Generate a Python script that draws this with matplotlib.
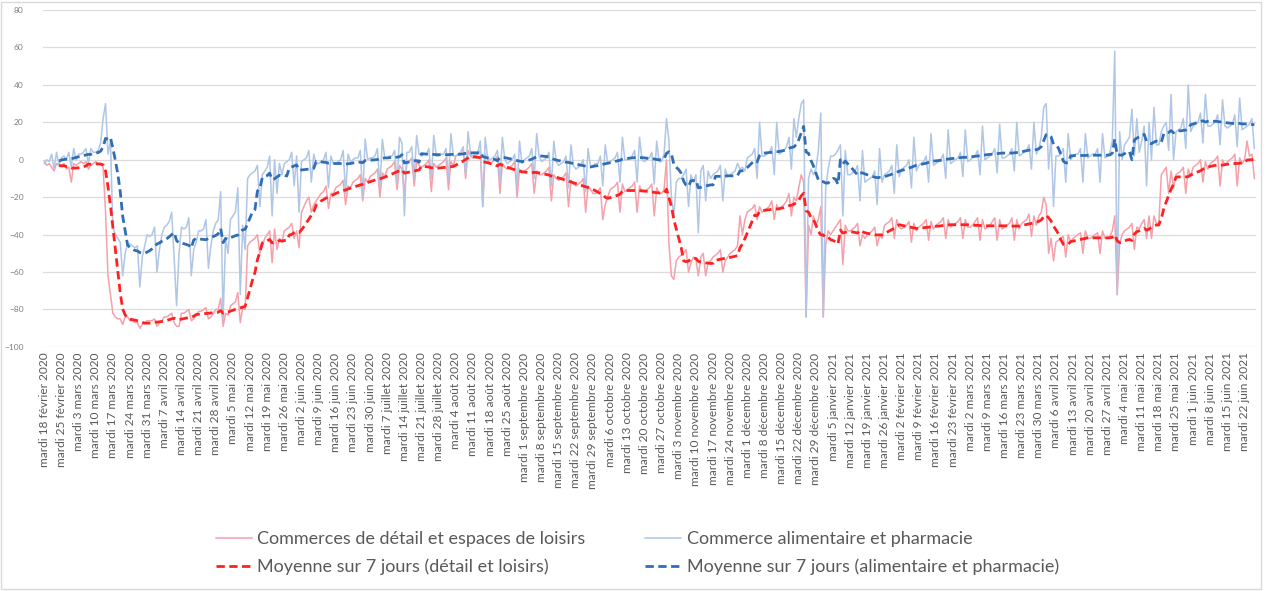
import matplotlib
matplotlib.use("Agg")
import matplotlib.pyplot as plt
import numpy as np
import pandas as pd
from matplotlib.patches import Rectangle

# Weekly tick labels (every Tuesday)
tick_labels = [
    "mardi 18 février 2020", "mardi 25 février 2020", "mardi 3 mars 2020", "mardi 10 mars 2020",
    "mardi 17 mars 2020", "mardi 24 mars 2020", "mardi 31 mars 2020", "mardi 7 avril 2020",
    "mardi 14 avril 2020", "mardi 21 avril 2020", "mardi 28 avril 2020", "mardi 5 mai 2020",
    "mardi 12 mai 2020", "mardi 19 mai 2020", "mardi 26 mai 2020", "mardi 2 juin 2020",
    "mardi 9 juin 2020", "mardi 16 juin 2020", "mardi 23 juin 2020", "mardi 30 juin 2020",
    "mardi 7 juillet 2020", "mardi 14 juillet 2020", "mardi 21 juillet 2020", "mardi 28 juillet 2020",
    "mardi 4 août 2020", "mardi 11 août 2020", "mardi 18 août 2020", "mardi 25 août 2020",
    "mardi 1 septembre 2020", "mardi 8 septembre 2020", "mardi 15 septembre 2020",
    "mardi 22 septembre 2020", "mardi 29 septembre 2020", "mardi 6 octobre 2020",
    "mardi 13 octobre 2020", "mardi 20 octobre 2020", "mardi 27 octobre 2020",
    "mardi 3 novembre 2020", "mardi 10 novembre 2020", "mardi 17 novembre 2020",
    "mardi 24 novembre 2020", "mardi 1 décembre 2020", "mardi 8 décembre 2020",
    "mardi 15 décembre 2020", "mardi 22 décembre 2020", "mardi 29 décembre 2020",
    "mardi 5 janvier 2021", "mardi 12 janvier 2021", "mardi 19 janvier 2021", "mardi 26 janvier 2021",
    "mardi 2 février 2021", "mardi 9 février 2021", "mardi 16 février 2021", "mardi 23 février 2021",
    "mardi 2 mars 2021", "mardi 9 mars 2021", "mardi 16 mars 2021", "mardi 23 mars 2021",
    "mardi 30 mars 2021", "mardi 6 avril 2021", "mardi 13 avril 2021", "mardi 20 avril 2021",
    "mardi 27 avril 2021", "mardi 4 mai 2021", "mardi 11 mai 2021", "mardi 18 mai 2021",
    "mardi 25 mai 2021", "mardi 1 juin 2021", "mardi 8 juin 2021", "mardi 15 juin 2021",
    "mardi 22 juin 2021",
]

# Daily change vs. baseline (%), Tuesday 18 Feb 2020 onwards, one row per week (Tue..Mon)
retail = [
    -1, -3, -2, -4, -6, -2, -3,
    -3, -2, -5, -4, -12, -2, -3,
    -2, -1, -2, -1, -5, -3, -2,
    -1, -2, -2, -4, -28, -62, -72,
    -82, -84, -85, -85, -88, -84, -84,
    -86, -86, -87, -87, -90, -88, -87,
    -86, -86, -86, -85, -89, -87, -86,
    -84, -84, -83, -82, -87, -89, -89,
    -82, -82, -81, -80, -86, -85, -83,
    -81, -81, -80, -79, -85, -84, -82,
    -80, -80, -74, -89, -82, -83, -78,
    -77, -76, -71, -87, -79, -80, -46,
    -44, -43, -42, -40, -50, -46, -42,
    -40, -38, -55, -37, -48, -42, -44,
    -38, -37, -36, -34, -42, -38, -47,
    -28, -25, -22, -20, -28, -24, -22,
    -20, -18, -17, -14, -26, -18, -18,
    -15, -14, -13, -11, -24, -14, -15,
    -12, -11, -10, -8, -22, -10, -12,
    -9, -8, -7, -5, -20, -7, -9,
    -5, -4, -3, -1, -16, -3, -5,
    -18, -2, -1, 1, -14, -1, -3,
    -4, -3, -2, 0, -17, -2, -4,
    -3, -2, -1, 1, -16, -1, -3,
    2, 3, 4, 6, -10, 5, 2,
    1, 2, 3, 5, -25, 3, 0,
    -2, -1, 0, 2, -18, -2, -4,
    -5, -4, -3, -1, -20, -5, -7,
    -6, -5, -4, -2, -18, -6, -8,
    -8, -7, -6, -4, -22, -8, -10,
    -11, -10, -9, -7, -25, -11, -13,
    -14, -13, -12, -10, -28, -14, -16,
    -18, -18, -17, -15, -32, -24, -20,
    -16, -15, -14, -12, -28, -13, -17,
    -16, -15, -14, -12, -28, -14, -17,
    -17, -16, -15, -13, -30, -15, -18,
    -18, -16, 0, -45, -62, -64, -54,
    -52, -51, -50, -48, -60, -55, -52,
    -53, -62, -52, -50, -62, -55, -54,
    -52, -51, -50, -48, -60, -54, -52,
    -50, -49, -48, -46, -30, -40, -32,
    -28, -27, -26, -24, -32, -25, -28,
    -27, -26, -25, -22, -32, -24, -27,
    -25, -24, -22, -18, -30, -20, -22,
    -15, -8, -12, -84, -35, -40, -30,
    -35, -32, -25, -84, -45, -38, -40,
    -38, -36, -34, -32, -56, -35, -38,
    -38, -37, -36, -34, -46, -40, -42,
    -40, -39, -38, -36, -46, -40, -42,
    -35, -34, -33, -31, -42, -32, -36,
    -37, -36, -35, -33, -44, -34, -38,
    -36, -35, -34, -32, -43, -33, -37,
    -35, -34, -33, -31, -42, -32, -36,
    -35, -34, -33, -31, -42, -32, -36,
    -36, -35, -33, -31, -43, -32, -37,
    -36, -35, -33, -31, -43, -32, -37,
    -36, -35, -34, -31, -43, -32, -37,
    -34, -33, -32, -29, -41, -30, -35,
    -30, -28, -20, -24, -50, -42, -54,
    -44, -43, -42, -41, -52, -40, -44,
    -42, -41, -40, -39, -50, -38, -42,
    -42, -41, -40, -39, -50, -38, -42,
    -42, -41, -38, -30, -72, -45, -40,
    -38, -37, -36, -34, -48, -36, -37,
    -34, -32, -42, -30, -42, -30, -34,
    -34, -8, -6, -4, -18, -6, -15,
    -8, -7, -6, -4, -18, -5, -9,
    -4, -3, -2, 0, -12, -1, -5,
    -2, -1, 0, 2, -14, 0, -3,
    -1, 0, 1, 3, -14, 1, -2,
    0, 10, 2, 3, -10,
]

grocery = [
    -2, 0, -1, 3, -5, 4, -3,
    1, 2, 0, 4, -4, 6, 0,
    3, 3, 4, 6, -2, 6, 4,
    4, 5, 9, 22, 30, 3, 10,
    -36, -40, -42, -44, -62, -50, -45,
    -45, -46, -47, -46, -68, -52, -46,
    -40, -41, -40, -36, -60, -48, -40,
    -36, -35, -33, -28, -52, -78, -50,
    -36, -37, -36, -31, -62, -48, -44,
    -38, -38, -37, -32, -58, -46, -38,
    -34, -32, -17, -85, -42, -50, -32,
    -30, -28, -15, -72, -35, -48, -10,
    -8, -7, -6, -3, -25, -8, -6,
    -4, 2, -30, 0, -18, -2, -8,
    -2, -1, 0, 4, -14, 2, -28,
    -1, 0, 1, 5, -12, 3, -2,
    -2, -1, 0, 4, -15, 2, -2,
    -2, -1, 0, 5, -18, 3, -1,
    0, 1, 1, 5, -20, 11, 0,
    1, 1, 2, 6, -15, 11, 1,
    1, 2, 2, 5, -12, 12, 9,
    -30, 4, 4, 7, -10, 13, 3,
    2, 3, 3, 6, -10, 13, 2,
    2, 3, 3, 6, -10, 14, 2,
    2, 3, 4, 7, -8, 15, 3,
    2, 3, 4, 10, -25, 12, 1,
    0, 1, 2, 5, -12, 12, 0,
    -2, -1, 0, 3, -15, 10, -2,
    0, 1, 2, 6, -10, 14, 2,
    -1, 0, 1, 4, -14, 10, -1,
    -3, -2, -1, 2, -15, 8, -3,
    -5, -4, -3, 0, -17, 6, -4,
    -3, -2, -2, 2, -14, 8, -2,
    -1, 0, 1, 4, -12, 12, 0,
    0, 1, 2, 5, -12, 12, 0,
    -1, 0, 1, 4, -13, 10, -1,
    -1, 3, 22, 10, -20, -30, -12,
    -10, -10, -8, -5, -25, -8, -12,
    -8, -39, -6, -3, -22, -6, -10,
    -8, -7, -6, -3, -22, -5, -9,
    -8, -7, -6, -2, -5, -4, -6,
    1, 2, 3, 6, -10, 20, 2,
    2, 3, 4, 7, -8, 20, 3,
    4, 5, 7, 12, -5, 22, 12,
    22, 30, 32, -84, -10, -5, -8,
    -5, 5, 25, -84, -15, -5, 2,
    2, 3, 5, 8, -30, 5, -8,
    -8, -7, -6, -3, -22, 5, -12,
    -11, -10, -9, -6, -24, 6, -12,
    -8, -7, -6, -3, -18, 8, -9,
    -5, -4, -3, 0, -15, 12, -6,
    -3, -2, -1, 2, -12, 14, -3,
    -2, -1, 0, 3, -10, 16, -2,
    -1, 0, 1, 4, -9, 16, -1,
    0, 1, 2, 5, -8, 18, 0,
    1, 2, 3, 6, -7, 19, 1,
    1, 2, 3, 6, -6, 20, 2,
    3, 4, 5, 8, -5, 20, 3,
    6, 12, 28, 30, -5, 12, -25,
    2, 2, 3, 6, -12, 14, 0,
    2, 3, 3, 6, -12, 14, 1,
    2, 3, 3, 6, -12, 14, 1,
    2, 4, 10, 58, -72, 15, 0,
    8, 10, 12, 27, 2, 22, 4,
    10, 18, -14, 20, 0, 28, 8,
    8, 15, 18, 20, 5, 35, 0,
    15, 16, 17, 22, 6, 40, 15,
    18, 19, 20, 25, 9, 35, 18,
    18, 19, 20, 24, 8, 32, 18,
    17, 18, 19, 24, 7, 33, 16,
    17, 18, 19, 22, 6,
]

series_names = [
    "Commerces de détail et espaces de loisirs",
    "Commerce alimentaire et pharmacie",
    "Moyenne sur 7 jours (détail et loisirs)",
    "Moyenne sur 7 jours (alimentaire et pharmacie)",
]

retail_avg = pd.Series(retail, dtype=float).rolling(7).mean()
grocery_avg = pd.Series(grocery, dtype=float).rolling(7).mean()

FONT = "Lato"
TEXT = "#595959"

fig = plt.figure(figsize=(12.67, 5.91), dpi=100)
ax = fig.add_axes([0.034, 0.413, 0.957, 0.570])

x = np.arange(len(retail))
l1, = ax.plot(x, retail, color="#F5A0AA", lw=1.1, label=series_names[0], zorder=2)
l2, = ax.plot(x, grocery, color="#AFC6E6", lw=1.1, label=series_names[1], zorder=3)
l3, = ax.plot(x, retail_avg, color="#FF2020", lw=2.0, dashes=(3.0, 1.6),
              label=series_names[2], zorder=4)
l4, = ax.plot(x, grocery_avg, color="#2F6EB5", lw=2.0, dashes=(3.0, 1.6),
              label=series_names[3], zorder=5)

ax.set_xlim(-0.5, len(retail) - 0.5)
ax.set_ylim(-100, 80)
ax.set_yticks(np.arange(-100, 81, 20))
ax.grid(axis="y", color="#DCDCDC", lw=0.9)
ax.set_axisbelow(True)
for s in ax.spines.values():
    s.set_visible(False)

ax.set_xticks(np.arange(0, 7 * len(tick_labels), 7))
ax.set_xticklabels(tick_labels, rotation=90, fontsize=8.6, color=TEXT, family=FONT)
ax.tick_params(axis="x", length=0, pad=4)
ax.tick_params(axis="y", length=0, pad=14, labelsize=6, labelcolor="#7F7F7F")
for t in ax.get_yticklabels():
    t.set_family(FONT)

leg = fig.legend(handles=[l1, l3, l2, l4], ncol=2, loc="center",
                 bbox_to_anchor=(0.503, 0.064), frameon=False,
                 prop={"family": FONT, "size": 13}, labelcolor=TEXT,
                 handlelength=2.0, handletextpad=0.3, columnspacing=3.3,
                 labelspacing=0.6)

fig.patches.append(Rectangle((0.001, 0.004), 0.994, 0.993, transform=fig.transFigure,
                             fill=False, ec="#D9D9D9", lw=1.0))

fig.savefig("out.png", dpi=100, facecolor="white")
